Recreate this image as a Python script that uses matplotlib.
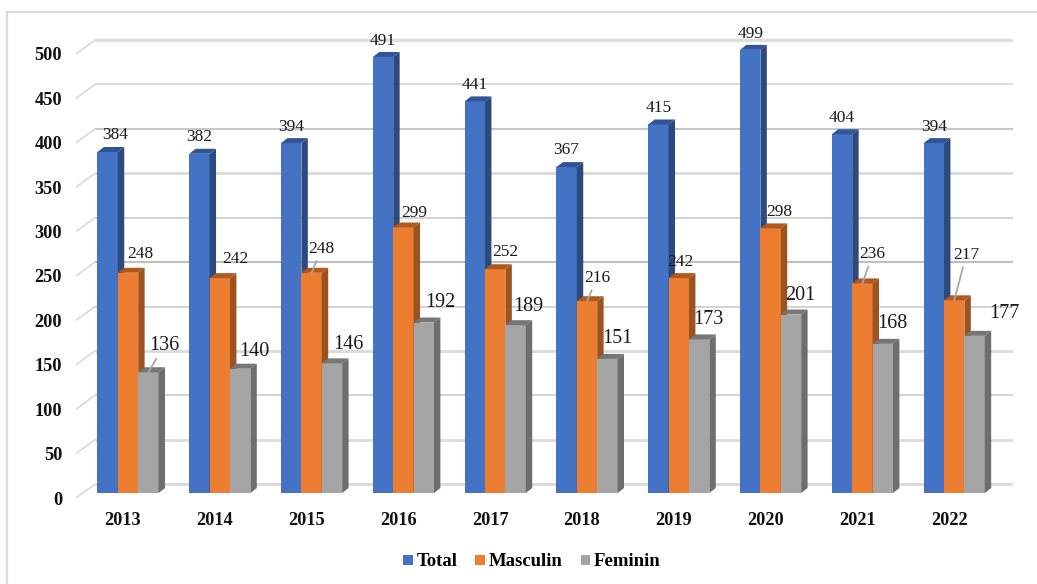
import matplotlib
matplotlib.use('Agg')
import matplotlib.pyplot as plt
from matplotlib.lines import Line2D
from matplotlib.transforms import ScaledTranslation

plt.rcParams['font.family'] = ['Liberation Serif', 'DejaVu Serif']

# Data
years = ['2013', '2014', '2015', '2016', '2017', '2018', '2019', '2020', '2021', '2022']
total = [384, 382, 394, 491, 441, 367, 415, 499, 404, 394]
masculin = [248, 242, 248, 299, 252, 216, 242, 298, 236, 217]
feminin = [136, 140, 146, 192, 189, 151, 173, 201, 168, 177]
y_ticks = [0, 50, 100, 150, 200, 250, 300, 350, 400, 450, 500]

# Label offsets from the bar top, in pixels
total_off = [(8, 17), (0, 17), (0, 16), (0, 16), (0, 16), (0, 17), (0, 16), (0, 16), (0, 16), (0, 16)]
masculin_off = [(12, 19), (16, 19), (10, 24), (11, 14), (10, 17), (10, 23), (2, 16), (9, 16), (10, 29), (12, 45)]
feminin_off = [(16, 27), (14, 17), (16, 19), (17, 20), (13, 19), (10, 20), (9, 20), (9, 19), (10, 20), (30, 22)]

# Which labels have a leader line
masculin_lead = ['2015', '2018', '2021', '2022']
feminin_lead = ['2013']

W, H = 1037, 584
fig = plt.figure(figsize=(W / 100, H / 100), dpi=100)
ax = fig.add_axes([76 / W, 1 - 498 / H, (1013 - 76) / W, (498 - 36) / H])
ax.set_xlim(-52 / 91.8, 885 / 91.8)
ax.set_ylim(-5.6, 514.6)
for s in ax.spines.values():
    s.set_visible(False)

bar_w = 0.222
depth_x = 0.07
depth_y = 5.6

# Back wall grid lines with the slanted part on the left
wall_x = -0.36
grid_lw = [2.2, 2.0, 1.5, 2.2, 1.5, 1.5, 1.5, 2.2, 1.5, 1.5, 2.4]
grid_col = ['#dcdcdc', '#dcdcdc', '#d4d4d4', '#dcdcdc', '#d4d4d4', '#bfbfbf', '#d4d4d4', '#dcdcdc', '#c8c8c8', '#dcdcdc', '#dddddd']
for v, lw, c in zip(y_ticks, grid_lw, grid_col):
    ax.plot([wall_x, 9.65], [v + 10, v + 10], color=c, lw=lw, zorder=1, solid_capstyle='butt')
    ax.plot([-52 / 91.8, wall_x], [v - 5.6, v + 10], color='#d9d9d9', lw=1.2, zorder=1)

series = [
    ('Total', total, -bar_w, '#4472C4', '#2F5597', '#2D4A7E', total_off, [], 12.5),
    ('Masculin', masculin, 0, '#ED7D31', '#B0591F', '#9C5320', masculin_off, masculin_lead, 12.5),
    ('Feminin', feminin, bar_w, '#A5A5A5', '#767676', '#6E6E6E', feminin_off, feminin_lead, 14.5),
]

for n, (name, values, shift, col, top_col, side_col, offs, lead, fs) in enumerate(series):
    xs = [i + shift for i in range(len(years))]
    z = 3 + n
    ax.bar(xs, values, width=bar_w, color=col, label=name, zorder=z)
    for x, v in zip(xs, values):
        l, r = x - bar_w / 2, x + bar_w / 2
        # top and side faces of the 3d bar
        ax.fill([l, r, r + depth_x, l + depth_x], [v, v, v + depth_y, v + depth_y], color=top_col, lw=0, zorder=z)
        ax.fill([r, r + depth_x, r + depth_x, r], [0, depth_y, v + depth_y, v], color=side_col, lw=0, zorder=z)

for n, (name, values, shift, col, top_col, side_col, offs, lead, fs) in enumerate(series):
    for i, v in enumerate(values):
        props = None
        if years[i] in lead:
            props = dict(arrowstyle='-', color='#a6a6a6', lw=1.3, shrinkA=1, shrinkB=0)
        ax.annotate(str(v), xy=(i + shift, v), xytext=offs[i], textcoords='offset pixels',
                    ha='center', va='center', fontsize=fs, color='#1a1a1a', zorder=10,
                    arrowprops=props, annotation_clip=False)

# Tick labels
ax.set_xticks(range(len(years)))
ax.set_xticklabels(years, fontweight='bold', fontsize=13.2, color='#111111')
ax.set_yticks(y_ticks)
ax.set_yticklabels(y_ticks, fontweight='bold', fontsize=13.2, color='#111111')
ax.tick_params(axis='both', length=0)
ax.tick_params(axis='x', pad=10)
ax.tick_params(axis='y', pad=10)
for label in ax.get_xticklabels():
    label.set_transform(label.get_transform() + ScaledTranslation(-5 / 100, 0, fig.dpi_scale_trans))
for label in ax.get_yticklabels():
    label.set_transform(label.get_transform() + ScaledTranslation(0, -5 / 100, fig.dpi_scale_trans))

# Legend
fig.legend(loc='center', bbox_to_anchor=(532 / W, 1 - 562 / H), ncol=3, frameon=False,
           prop={'weight': 'bold', 'size': 13.5}, handlelength=0.5, handleheight=0.5,
           handletextpad=0.22, columnspacing=0.95)

# Outer frame of the picture
fig.add_artist(Line2D([7 / W, 7 / W], [0, 1 - 12 / H], color='#d9d9d9', lw=1.6))
fig.add_artist(Line2D([7 / W, 1], [1 - 12 / H, 1 - 12 / H], color='#d9d9d9', lw=1.6))

fig.savefig('out.png', dpi=100)
